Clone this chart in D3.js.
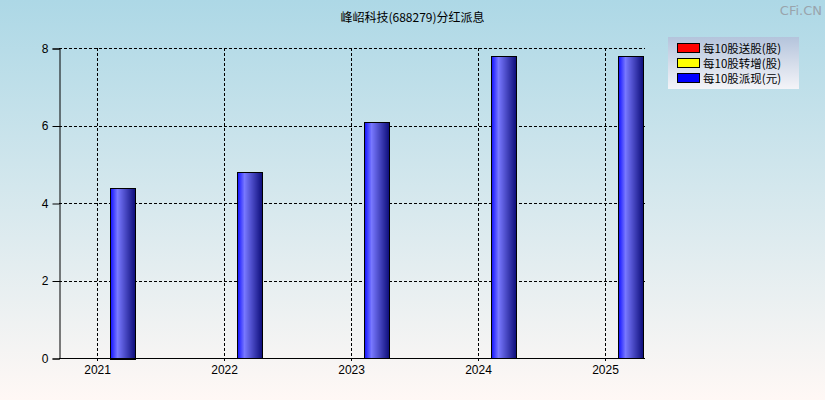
<!DOCTYPE html>
<html>
<head>
<meta charset="utf-8">
<script src="https://cdn.jsdelivr.net/npm/d3@7"></script>
<style>
  body { margin: 0; padding: 0; }
  svg { display: block; font-family: "DejaVu Sans", "Noto Sans CJK SC", sans-serif; }
</style>
</head>
<body>
<div id="chart"></div>
<script>
// data
const years = [2021, 2022, 2023, 2024, 2025];
const cashPer10 = [4.4, 4.8, 6.1, 7.8, 7.8];
const yTicks = [0, 2, 4, 6, 8];
const legendLabels = ['每10股送股(股)', '每10股转增(股)', '每10股派现(元)'];
const legendColors = ['#ff0000', '#ffff00', '#0000ff'];

const width = 825, height = 400;
const margin = { top: 48, right: 180, bottom: 42, left: 59 };

const svg = d3.select('#chart')
  .append('svg')
  .attr('width', width)
  .attr('height', height);

const defs = svg.append('defs');

const bg = defs.append('linearGradient')
  .attr('id', 'bg').attr('x1', 0).attr('y1', 0).attr('x2', 0).attr('y2', 1);
bg.append('stop').attr('offset', '0%').attr('stop-color', '#add8e6');
bg.append('stop').attr('offset', '100%').attr('stop-color', '#fff8f5');

const barGrad = defs.append('linearGradient')
  .attr('id', 'bar').attr('x1', 0).attr('y1', 0).attr('x2', 1).attr('y2', 0);
barGrad.append('stop').attr('offset', '0%').attr('stop-color', '#1010ff');
barGrad.append('stop').attr('offset', '28%').attr('stop-color', '#7878ff');
barGrad.append('stop').attr('offset', '100%').attr('stop-color', '#0c0c78');

const lg = defs.append('linearGradient')
  .attr('id', 'legbg').attr('x1', 0).attr('y1', 0).attr('x2', 0).attr('y2', 1);
lg.append('stop').attr('offset', '0%').attr('stop-color', '#b4c4dc');
lg.append('stop').attr('offset', '100%').attr('stop-color', '#f4f4f8');

svg.append('rect')
  .attr('width', width).attr('height', height)
  .attr('fill', 'url(#bg)');

const x = d3.scaleLinear()
  .domain([2020.7, 2025.315])
  .range([margin.left, width - margin.right]);

const y = d3.scaleLinear()
  .domain([0, 8])
  .range([height - margin.bottom, margin.top]);

// grid
const grid = svg.append('g')
  .attr('stroke', '#000')
  .attr('stroke-dasharray', '3,2')
  .attr('stroke-width', 1);

grid.selectAll('.hg')
  .data(yTicks.filter(d => d > 0))
  .enter()
  .append('line')
  .attr('x1', margin.left)
  .attr('x2', width - margin.right)
  .attr('y1', d => Math.round(y(d)) + 0.5)
  .attr('y2', d => Math.round(y(d)) + 0.5);

grid.selectAll('.vg')
  .data(years)
  .enter()
  .append('line')
  .attr('x1', d => Math.round(x(d)) + 0.5)
  .attr('x2', d => Math.round(x(d)) + 0.5)
  .attr('y1', margin.top)
  .attr('y2', height - margin.bottom + 5);

// bars
svg.append('g')
  .selectAll('rect')
  .data(years)
  .enter()
  .append('rect')
  .attr('x', d => Math.round(x(d + 0.1)) + 0.5)
  .attr('width', d => Math.round(x(d + 0.3) - x(d + 0.1)))
  .attr('y', (d, i) => Math.round(y(cashPer10[i])) + 0.5)
  .attr('height', (d, i) => Math.round(y(0) - y(cashPer10[i])))
  .attr('fill', 'url(#bar)')
  .attr('stroke', '#000')
  .attr('stroke-width', 1);

// axes
const yAxis = svg.append('g')
  .attr('transform', 'translate(' + (margin.left + 0.5) + ',0.5)')
  .call(d3.axisLeft(y).tickValues(yTicks).tickSize(7).tickPadding(4).tickFormat(d3.format('d')));

const xAxis = svg.append('g')
  .attr('transform', 'translate(0,' + (height - margin.bottom + 0.5) + ')')
  .call(d3.axisBottom(x).tickValues(years).tickSize(0).tickPadding(7).tickFormat(d3.format('d')));

[yAxis, xAxis].forEach(a => {
  a.select('.domain').attr('stroke', '#000').attr('stroke-width', 1);
  a.selectAll('text').attr('fill', '#000').style('font-size', '12px');
});
xAxis.select('.domain').attr('d', 'M' + margin.left + ',0H' + (width - margin.right));

// title
svg.append('text')
  .attr('x', width / 2)
  .attr('y', 22)
  .attr('text-anchor', 'middle')
  .style('font-size', '12px')
  .style('font-family', '"Noto Sans CJK SC", sans-serif')
  .text('峰岹科技(688279)分红派息');

svg.append('text')
  .attr('x', 822)
  .attr('y', 15)
  .attr('text-anchor', 'end')
  .attr('fill', '#9aa4ac')
  .style('font-size', '13px')
  .text('CFi.CN');

// legend
const legend = svg.append('g');
legend.append('rect')
  .attr('x', 668).attr('y', 37)
  .attr('width', 131).attr('height', 52)
  .attr('fill', 'url(#legbg)');

const items = legend.selectAll('g')
  .data(legendLabels)
  .enter()
  .append('g')
  .attr('transform', (d, i) => 'translate(677,' + (43 + i * 15) + ')');

items.append('rect')
  .attr('x', 0.5).attr('y', 0.5)
  .attr('width', 22).attr('height', 9)
  .attr('fill', (d, i) => legendColors[i])
  .attr('stroke', '#000');

items.append('text')
  .attr('x', 26)
  .attr('y', 9.5)
  .style('font-size', '11.5px')
  .style('font-family', '"Noto Sans CJK SC", sans-serif')
  .text(d => d);
</script>
</body>
</html>
